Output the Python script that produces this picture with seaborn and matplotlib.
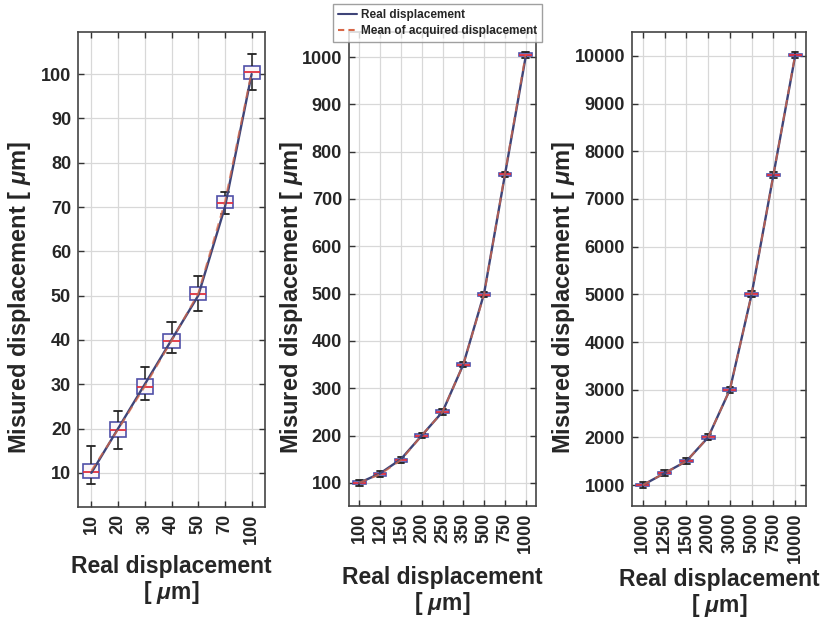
import numpy as np
import pandas as pd
import matplotlib
matplotlib.use("Agg")
import matplotlib.pyplot as plt
from matplotlib.lines import Line2D
import seaborn as sns

# ---------------- data ----------------
left_cats = ["10", "20", "30", "40", "50", "70", "100"]
left_real = [10, 20, 30, 40, 50, 70, 100]
left_mean = [10.5, 19.8, 29.5, 39.8, 50.5, 71.2, 100.5]
left_lo = [7.5, 15.5, 26.5, 37.0, 46.5, 68.5, 96.5]
left_q1 = [8.8, 18.0, 27.8, 38.2, 49.0, 69.8, 99.0]
left_med = [10.3, 19.7, 29.4, 39.7, 50.3, 71.0, 100.4]
left_q3 = [12.0, 21.5, 31.3, 41.3, 52.0, 72.5, 101.8]
left_hi = [16.0, 24.0, 34.0, 44.0, 54.5, 73.5, 104.5]

mid_cats = ["100", "120", "150", "200", "250", "350", "500", "750", "1000"]
mid_real = [100, 120, 150, 200, 250, 350, 500, 750, 1000]
mid_mean = [100, 118, 148, 200, 250, 350, 498, 752, 1005]
mid_lo = [94, 112, 142, 194, 244, 344, 492, 746, 999]
mid_q1 = [97, 115, 145, 197, 247, 347, 495, 749, 1002]
mid_med = [100, 118, 148, 200, 250, 350, 498, 752, 1005]
mid_q3 = [103, 121, 151, 203, 253, 353, 501, 755, 1008]
mid_hi = [106, 124, 154, 206, 256, 356, 504, 758, 1011]

right_cats = ["1000", "1250", "1500", "2000", "3000", "5000", "7500", "10000"]
right_real = [1000, 1250, 1500, 2000, 3000, 5000, 7500, 10000]
right_mean = [1000, 1250, 1500, 2000, 3000, 5000, 7500, 10020]
right_lo = [940, 1190, 1440, 1940, 2940, 4940, 7440, 9960]
right_q1 = [975, 1225, 1475, 1975, 2975, 4975, 7475, 9995]
right_med = [1000, 1250, 1500, 2000, 3000, 5000, 7500, 10020]
right_q3 = [1025, 1275, 1525, 2025, 3025, 5025, 7525, 10045]
right_hi = [1060, 1310, 1560, 2060, 3060, 5060, 7560, 10080]

# ---------------- style ----------------
sns.set_theme(style="whitegrid")
plt.rcParams["font.family"] = ["Liberation Sans", "DejaVu Sans"]
plt.rcParams["font.weight"] = "bold"
plt.rcParams["mathtext.fontset"] = "custom"
plt.rcParams["mathtext.it"] = "Liberation Sans:italic"
plt.rcParams["mathtext.rm"] = "Liberation Sans:bold"

REAL_C = "#3e4478"
MEAN_C = "#d86848"
BOX_C = "#5050a8"
MED_C = "#e03040"

fig = plt.figure(figsize=(8.22, 6.18), dpi=100)
W, H = 822.0, 618.0


def make_ax(x0, y0, x1, y1):
    return fig.add_axes([x0 / W, 1 - y1 / H, (x1 - x0) / W, (y1 - y0) / H])


panels = [
    (make_ax(78, 32, 265, 507), left_cats, left_real, left_mean,
     (left_lo, left_q1, left_med, left_q3, left_hi), (2.3, 109.5), np.arange(10, 101, 10),
     -0.24, 8),
    (make_ax(349, 32, 536, 506), mid_cats, mid_real, mid_mean,
     (mid_lo, mid_q1, mid_med, mid_q3, mid_hi), (51, 1053), np.arange(100, 1001, 100),
     -0.235, 9),
    (make_ax(632, 32, 806, 506), right_cats, right_real, right_mean,
     (right_lo, right_q1, right_med, right_q3, right_hi), (560, 10503), np.arange(1000, 10001, 1000),
     -0.316, 3),
]

for ax, cats, real, mean, stats, ylim, yticks, ylab_x, xpad in panels:
    rows = []
    for i, c in enumerate(cats):
        for arr in stats:
            rows.append({"cat": c, "value": arr[i]})
    df = pd.DataFrame(rows)
    sns.boxplot(data=df, x="cat", y="value", order=cats, ax=ax, whis=(0, 100),
                width=0.6, fliersize=0, color="#fbf4f8", linecolor=BOX_C, linewidth=1.2,
                medianprops={"color": MED_C, "linewidth": 1.3},
                whiskerprops={"color": "#222222", "linewidth": 1.1},
                capprops={"color": "#222222", "linewidth": 1.3})
    x = np.arange(len(cats))
    ax.plot(x, real, color=REAL_C, lw=1.7, zorder=5)
    ax.plot(x, mean, color=MEAN_C, lw=1.4, ls=(0, (4, 3)), zorder=6, alpha=0.75)
    ax.set_xlim(-0.5, len(cats) - 0.5)
    ax.set_ylim(*ylim)
    ax.set_yticks(yticks)
    ax.set_xticks(x)
    ax.set_xticklabels(cats, rotation=90, fontsize=13, fontweight="bold")
    ax.tick_params(axis="y", labelsize=13)
    for lab in ax.get_yticklabels():
        lab.set_fontweight("bold")
    ax.tick_params(direction="in", length=4, width=1, top=True, right=True,
                   bottom=True, left=True, color="#333333", pad=5)
    ax.grid(True, color="#d8d8d8", linewidth=0.9)
    ax.set_axisbelow(True)
    for s in ax.spines.values():
        s.set_visible(True)
        s.set_color("#444444")
        s.set_linewidth(1.2)
    ax.set_xlabel("Real displacement\n[ $\\mu$m]", fontsize=16.5, fontweight="bold",
                  labelpad=xpad, linespacing=1.05)
    ax.set_ylabel("Misured displacement [ $\\mu$m]", fontsize=17, fontweight="bold")
    ax.yaxis.set_label_coords(ylab_x, 0.44)

handles = [Line2D([], [], color=REAL_C, lw=1.5),
           Line2D([], [], color=MEAN_C, lw=1.5, ls=(0, (3, 2)))]
leg = fig.legend(handles, ["Real displacement", "Mean of acquired displacement"],
                 loc="upper left", bbox_to_anchor=(333 / W, 1 - 4 / H), borderaxespad=0,
                 prop={"size": 8.5, "weight": "bold"}, frameon=True, fancybox=False,
                 handlelength=1.6, borderpad=0.4, labelspacing=0.35, handletextpad=0.4)
leg.get_frame().set_edgecolor("#888888")
leg.get_frame().set_linewidth(1.0)

fig.savefig("out.png", dpi=100)
